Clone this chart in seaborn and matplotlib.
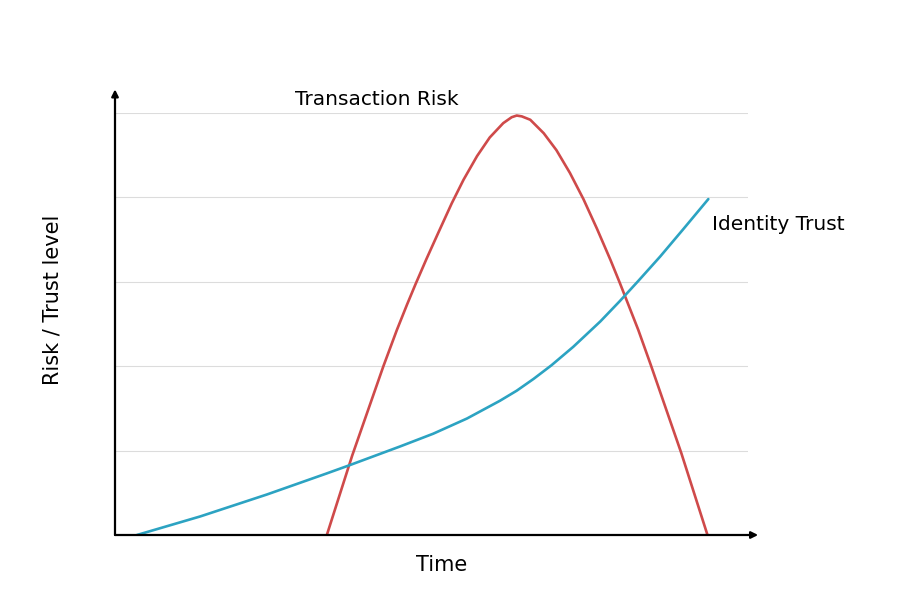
import matplotlib
matplotlib.use("Agg")
import matplotlib.pyplot as plt
import pandas as pd
import seaborn as sns

# Transaction risk curve
risk_time = [2.51, 2.81, 3.18, 3.34, 3.46, 3.56, 3.69, 3.83, 3.99, 4.13,
             4.29, 4.44, 4.60, 4.70, 4.76, 4.82, 4.92, 5.08, 5.23, 5.39,
             5.55, 5.71, 5.87, 5.98, 6.20, 6.35, 6.71, 7.02]
risk_level = [0.00, 0.94, 2.00, 2.43, 2.73, 2.97, 3.27, 3.58, 3.93, 4.21,
              4.49, 4.71, 4.88, 4.95, 4.97, 4.96, 4.92, 4.76, 4.56, 4.29,
              3.98, 3.63, 3.26, 2.99, 2.43, 2.01, 0.97, 0.00]

# Identity trust curve
trust_time = [0.26, 1.01, 1.80, 2.51, 2.76, 3.38, 3.77, 4.17, 4.56, 4.76,
              4.96, 5.17, 5.43, 5.75, 5.98, 6.20, 6.46, 6.73, 7.03]
trust_level = [0.00, 0.22, 0.48, 0.73, 0.82, 1.05, 1.20, 1.38, 1.59, 1.71,
               1.85, 2.01, 2.23, 2.53, 2.77, 3.01, 3.30, 3.62, 3.98]

grid_levels = [1, 2, 3, 4, 5]

RED = "#cf4a4a"
BLUE = "#2ca3c2"

sns.set_style("white")
plt.rcParams["font.family"] = ["DejaVu Sans"]

fig = plt.figure(figsize=(9, 6), dpi=100)
ax = fig.add_axes([115 / 900, 65 / 600, 633 / 900, 422 / 600])

risk = pd.DataFrame({"time": risk_time, "level": risk_level})
trust = pd.DataFrame({"time": trust_time, "level": trust_level})

sns.lineplot(data=risk, x="time", y="level", ax=ax, color=RED, linewidth=1.9,
             sort=False, estimator=None)
sns.lineplot(data=trust, x="time", y="level", ax=ax, color=BLUE, linewidth=1.9,
             sort=False, estimator=None)

ax.set_xlim(0, 7.5)
ax.set_ylim(0, 5)
ax.set_yticks(grid_levels)
ax.set_xticks([])
ax.tick_params(left=False, labelleft=False)
ax.grid(axis="y", color="#dcdcdc", linewidth=0.8)
for side in ["top", "right", "left", "bottom"]:
    ax.spines[side].set_visible(False)

# axis arrows
arrow = dict(arrowstyle="-|>", color="black", lw=1.6, mutation_scale=10,
             shrinkA=0, shrinkB=0)
ax.annotate("", xy=(0, 5.28), xytext=(0, 0), arrowprops=arrow,
            annotation_clip=False)
ax.annotate("", xy=(7.62, 0), xytext=(0, 0), arrowprops=arrow,
            annotation_clip=False)

ax.text(3.1, 5.16, "Transaction Risk", fontsize=14.5, ha="center",
        va="center", color="black")
ax.text(7.07, 3.68, "Identity Trust", fontsize=14.5, ha="left", va="center",
        color="black")

ax.set_xlabel("")
ax.set_ylabel("")
fig.text(442 / 900, 1 - 565 / 600, "Time", fontsize=15, ha="center",
         va="center", color="black")
fig.text(53 / 900, 1 - 300 / 600, "Risk / Trust level", fontsize=15,
         ha="center", va="center", rotation=90, color="black")

fig.savefig("out.png", dpi=100, facecolor="white")
